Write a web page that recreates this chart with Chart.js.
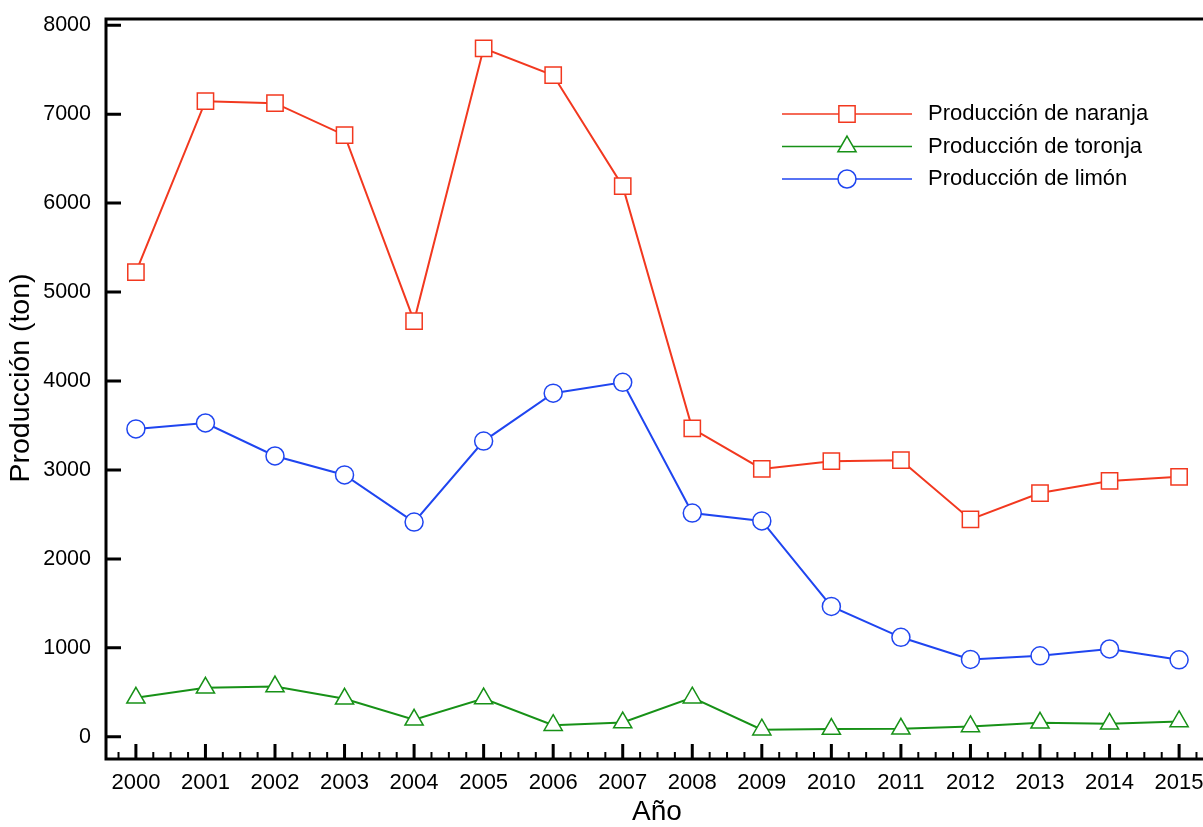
<!DOCTYPE html>
<html lang="es">
<head>
    <meta charset="UTF-8">
    <title>Producción de cítricos 2000-2015</title>
    <style>
        body { margin: 0; overflow: hidden; background: #fff; }
        #wrap { position: absolute; left: 0; top: 0; }
    </style>
    <script src="https://cdn.jsdelivr.net/npm/chart.js"></script>
</head>
<body>
    <div id="wrap"><canvas id="chart" width="1222" height="827"></canvas></div>
    <script>
        // datos
        const years = [2000, 2001, 2002, 2003, 2004, 2005, 2006, 2007, 2008, 2009, 2010, 2011, 2012, 2013, 2014, 2015];
        const naranja = [5225, 7146, 7124, 6764, 4674, 7740, 7438, 6191, 3466, 3011, 3099, 3110, 2444, 2740, 2876, 2923];
        const toronja = [438, 550, 565, 427, 191, 430, 130, 160, 440, 79, 86, 90, 116, 157, 146, 172];
        const limon = [3461, 3528, 3157, 2944, 2414, 3324, 3863, 3985, 2515, 2427, 1466, 1118, 870, 910, 987, 865];
        const yTicks = [0, 1000, 2000, 3000, 4000, 5000, 6000, 7000, 8000];

        const FONT = '"Liberation Sans", Arial, Helvetica, sans-serif';

        function pts(vals) {
            return vals.map((v, i) => ({ x: years[i], y: v }));
        }

        function serie(label, vals, color, style, r) {
            return {
                label: label,
                data: pts(vals),
                borderColor: color,
                backgroundColor: color,
                borderWidth: 2,
                pointStyle: style,
                pointRadius: r,
                pointHoverRadius: r,
                pointBorderWidth: 1.5,
                pointBorderColor: color,
                pointBackgroundColor: '#fff',
                tension: 0
            };
        }

        // ejes, marcas y leyenda dibujados a mano
        const frame = {
            id: 'frame',
            afterDatasetsDraw(chart) {
                const ctx = chart.ctx;
                const a = chart.chartArea;
                const x = chart.scales.x, y = chart.scales.y;
                ctx.save();
                ctx.strokeStyle = '#000';
                ctx.lineCap = 'butt';

                ctx.lineWidth = 3;
                ctx.beginPath();
                ctx.moveTo(a.left, a.top);
                ctx.lineTo(chart.width, a.top);
                ctx.moveTo(a.left, a.top - 1.5);
                ctx.lineTo(a.left, a.bottom + 1.5);
                ctx.moveTo(a.left, a.bottom);
                ctx.lineTo(chart.width, a.bottom);
                ctx.stroke();

                // marcas y
                ctx.beginPath();
                yTicks.forEach(v => {
                    const py = y.getPixelForValue(v);
                    ctx.moveTo(a.left, py);
                    ctx.lineTo(a.left + 15, py);
                });
                ctx.stroke();

                // marcas x mayores
                ctx.beginPath();
                years.forEach(v => {
                    const px = x.getPixelForValue(v);
                    ctx.moveTo(px, a.bottom);
                    ctx.lineTo(px, a.bottom - 15);
                });
                ctx.stroke();

                // marcas x menores (cada 0.25)
                ctx.lineWidth = 2;
                ctx.beginPath();
                for (let v = 1999.75; v <= x.max; v += 0.25) {
                    if (Math.abs(v - Math.round(v)) < 0.01) continue;
                    const px = x.getPixelForValue(v);
                    ctx.moveTo(px, a.bottom);
                    ctx.lineTo(px, a.bottom - 7);
                }
                ctx.stroke();

                // leyenda
                chart.data.datasets.forEach((ds, i) => {
                    const ly = 114 + i * 32.5;
                    ctx.strokeStyle = ds.borderColor;
                    ctx.lineWidth = 1.5;
                    ctx.beginPath();
                    ctx.moveTo(782, ly);
                    ctx.lineTo(912, ly);
                    ctx.stroke();
                    ctx.fillStyle = '#fff';
                    ctx.lineWidth = 1.5;
                    Chart.helpers.drawPoint(ctx, {
                        pointStyle: ds.pointStyle,
                        radius: ds.pointRadius,
                        rotation: 0,
                        borderWidth: 1.5
                    }, 847, ly);
                    ctx.fillStyle = '#000';
                    ctx.font = '22px ' + FONT;
                    ctx.textAlign = 'left';
                    ctx.textBaseline = 'middle';
                    ctx.fillText(ds.label, 928, ly);
                });

                // titulos de ejes
                ctx.fillStyle = '#000';
                ctx.font = '28px ' + FONT;
                ctx.textAlign = 'center';
                ctx.textBaseline = 'middle';
                ctx.fillText('Año', 657, 812);
                ctx.translate(21, 378);
                ctx.rotate(-Math.PI / 2);
                ctx.font = '28.5px ' + FONT;
                ctx.fillText('Producción (ton)', 0, 0);
                ctx.restore();
            }
        };

        const ctx = document.getElementById('chart').getContext('2d');
        const chart = new Chart(ctx, {
            type: 'line',
            data: {
                datasets: [
                    serie('Producción de naranja', naranja, '#f2381f', 'rect', 11.5),
                    serie('Producción de toronja', toronja, '#179117', 'triangle', 10.5),
                    serie('Producción de limón', limon, '#1f45f0', 'circle', 9)
                ]
            },
            options: {
                responsive: false,
                animation: false,
                layout: { padding: { top: 19, right: 0, left: 0, bottom: 0 } },
                plugins: {
                    legend: { display: false },
                    tooltip: { enabled: false }
                },
                scales: {
                    x: {
                        type: 'linear',
                        min: 1999.57,
                        max: 2015.43,
                        afterFit: s => { s.height = 68; s.paddingLeft = 0; s.paddingRight = 0; },
                        afterBuildTicks: s => { s.ticks = years.map(v => ({ value: v })); },
                        grid: { display: false, drawTicks: false },
                        border: { display: false },
                        ticks: {
                            padding: 11,
                            color: '#000',
                            font: { family: FONT, size: 22 },
                            maxRotation: 0,
                            autoSkip: false,
                            callback: v => String(v)
                        }
                    },
                    y: {
                        min: -250,
                        max: 8070,
                        afterFit: s => { s.width = 106; s.paddingTop = 0; s.paddingBottom = 0; },
                        afterBuildTicks: s => { s.ticks = yTicks.map(v => ({ value: v })); },
                        grid: { display: false, drawTicks: false },
                        border: { display: false },
                        ticks: {
                            padding: 15,
                            color: '#000',
                            font: { family: FONT, size: 21.5 },
                            callback: v => String(v)
                        }
                    }
                }
            },
            plugins: [frame]
        });
    </script>
</body>
</html>
